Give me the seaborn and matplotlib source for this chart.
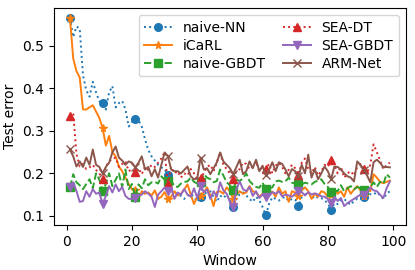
import numpy as np
import pandas as pd
import matplotlib
matplotlib.use("Agg")
import matplotlib.pyplot as plt
import seaborn as sns

# Data
windows = list(range(1, 100))

naive_nn = [0.565, 0.52, 0.545, 0.54, 0.43, 0.395, 0.38, 0.415, 0.39, 0.37,
            0.365, 0.35, 0.39, 0.405, 0.355, 0.365, 0.37, 0.35, 0.31, 0.32,
            0.328, 0.325, 0.31, 0.28, 0.255, 0.24, 0.23, 0.22, 0.214, 0.21,
            0.195, 0.163, 0.155, 0.15, 0.147, 0.14, 0.148, 0.152, 0.145, 0.133,
            0.144, 0.152, 0.155, 0.158, 0.145, 0.133, 0.148, 0.142, 0.15, 0.138,
            0.12, 0.14, 0.151, 0.155, 0.148, 0.14, 0.133, 0.145, 0.137, 0.121,
            0.102, 0.128, 0.144, 0.14, 0.136, 0.142, 0.145, 0.135, 0.14, 0.138,
            0.123, 0.144, 0.15, 0.155, 0.148, 0.14, 0.145, 0.142, 0.136, 0.13,
            0.114, 0.13, 0.128, 0.136, 0.14, 0.132, 0.126, 0.135, 0.14, 0.138,
            0.144, 0.148, 0.151, 0.15, 0.156, 0.148, 0.14, 0.152, 0.158]

icarl = [0.565, 0.47, 0.44, 0.425, 0.35, 0.35, 0.355, 0.36, 0.345, 0.33,
         0.307, 0.265, 0.288, 0.25, 0.24, 0.216, 0.205, 0.19, 0.175, 0.163,
         0.16, 0.14, 0.158, 0.152, 0.155, 0.148, 0.16, 0.14, 0.145, 0.156,
         0.14, 0.145, 0.158, 0.148, 0.152, 0.162, 0.174, 0.15, 0.128, 0.145,
         0.147, 0.155, 0.167, 0.148, 0.123, 0.156, 0.158, 0.152, 0.167, 0.158,
         0.14, 0.15, 0.158, 0.152, 0.155, 0.17, 0.158, 0.155, 0.145, 0.152,
         0.15, 0.153, 0.157, 0.145, 0.167, 0.152, 0.158, 0.133, 0.158, 0.155,
         0.147, 0.16, 0.167, 0.158, 0.14, 0.152, 0.145, 0.158, 0.155, 0.145,
         0.148, 0.162, 0.152, 0.158, 0.145, 0.167, 0.152, 0.162, 0.17, 0.16,
         0.147, 0.162, 0.158, 0.198, 0.19, 0.18, 0.177, 0.18, 0.183]

naive_gbdt = [0.167, 0.198, 0.179, 0.172, 0.163, 0.175, 0.186, 0.165, 0.2, 0.185,
              0.158, 0.175, 0.2, 0.17, 0.185, 0.2, 0.168, 0.209, 0.163, 0.175,
              0.145, 0.174, 0.165, 0.186, 0.172, 0.179, 0.18, 0.176, 0.193, 0.185,
              0.181, 0.183, 0.17, 0.168, 0.176, 0.18, 0.181, 0.19, 0.18, 0.176,
              0.18, 0.198, 0.19, 0.186, 0.179, 0.182, 0.209, 0.195, 0.179, 0.172,
              0.16, 0.185, 0.182, 0.188, 0.2, 0.182, 0.174, 0.168, 0.166, 0.178,
              0.163, 0.165, 0.167, 0.181, 0.183, 0.18, 0.181, 0.19, 0.178, 0.176,
              0.175, 0.174, 0.178, 0.176, 0.174, 0.18, 0.183, 0.186, 0.175, 0.168,
              0.155, 0.16, 0.158, 0.172, 0.158, 0.165, 0.17, 0.162, 0.168, 0.165,
              0.16, 0.162, 0.168, 0.179, 0.168, 0.18, 0.175, 0.198, 0.19]

sea_dt = [0.335, 0.342, 0.245, 0.216, 0.222, 0.21, 0.214, 0.22, 0.208, 0.2,
          0.187, 0.216, 0.228, 0.235, 0.237, 0.215, 0.222, 0.228, 0.205, 0.21,
          0.203, 0.212, 0.198, 0.215, 0.208, 0.22, 0.215, 0.225, 0.235, 0.25,
          0.174, 0.215, 0.2, 0.205, 0.19, 0.2, 0.195, 0.21, 0.2, 0.185,
          0.19, 0.2, 0.215, 0.22, 0.205, 0.225, 0.25, 0.22, 0.21, 0.2,
          0.186, 0.205, 0.21, 0.225, 0.222, 0.21, 0.218, 0.228, 0.205, 0.215,
          0.21, 0.222, 0.2, 0.218, 0.225, 0.215, 0.2, 0.208, 0.22, 0.212,
          0.196, 0.225, 0.235, 0.21, 0.2, 0.215, 0.195, 0.205, 0.22, 0.215,
          0.232, 0.22, 0.2, 0.215, 0.19, 0.2, 0.205, 0.195, 0.215, 0.222,
          0.21, 0.2, 0.22, 0.268, 0.25, 0.23, 0.21, 0.22, 0.225]

sea_gbdt = [0.167, 0.179, 0.158, 0.133, 0.135, 0.158, 0.145, 0.163, 0.152, 0.155,
            0.128, 0.147, 0.17, 0.155, 0.174, 0.158, 0.168, 0.147, 0.14, 0.14,
            0.142, 0.148, 0.15, 0.158, 0.152, 0.145, 0.121, 0.15, 0.158, 0.167,
            0.158, 0.165, 0.14, 0.155, 0.15, 0.163, 0.15, 0.145, 0.165, 0.142,
            0.17, 0.156, 0.162, 0.14, 0.158, 0.145, 0.179, 0.16, 0.152, 0.133,
            0.12, 0.163, 0.181, 0.163, 0.158, 0.168, 0.147, 0.158, 0.142, 0.15,
            0.144, 0.146, 0.156, 0.152, 0.158, 0.146, 0.15, 0.148, 0.145, 0.152,
            0.158, 0.156, 0.148, 0.156, 0.15, 0.153, 0.15, 0.146, 0.145, 0.14,
            0.13, 0.145, 0.135, 0.142, 0.123, 0.13, 0.135, 0.14, 0.145, 0.15,
            0.148, 0.158, 0.167, 0.16, 0.158, 0.15, 0.142, 0.165, 0.181]

arm_net = [0.256, 0.24, 0.216, 0.228, 0.215, 0.237, 0.22, 0.256, 0.22, 0.215,
           0.2, 0.215, 0.225, 0.249, 0.263, 0.237, 0.23, 0.22, 0.228, 0.225,
           0.214, 0.225, 0.24, 0.209, 0.215, 0.193, 0.21, 0.19, 0.22, 0.249,
           0.24, 0.209, 0.205, 0.205, 0.2, 0.208, 0.216, 0.193, 0.186, 0.188,
           0.237, 0.209, 0.212, 0.198, 0.212, 0.226, 0.249, 0.228, 0.22, 0.212,
           0.198, 0.215, 0.232, 0.198, 0.205, 0.228, 0.212, 0.232, 0.205, 0.218,
           0.195, 0.209, 0.226, 0.205, 0.226, 0.222, 0.209, 0.193, 0.21, 0.205,
           0.193, 0.22, 0.2, 0.244, 0.19, 0.21, 0.186, 0.2, 0.216, 0.205,
           0.186, 0.216, 0.215, 0.209, 0.2, 0.193, 0.19, 0.181, 0.228, 0.22,
           0.209, 0.195, 0.179, 0.226, 0.232, 0.225, 0.214, 0.215, 0.214]

series = [
    ("naive-NN", naive_nn, ":", "o"),
    ("iCaRL", icarl, "-", "*"),
    ("naive-GBDT", naive_gbdt, "--", "s"),
    ("SEA-DT", sea_dt, ":", "^"),
    ("SEA-GBDT", sea_gbdt, "-", "v"),
    ("ARM-Net", arm_net, "-", "x"),
]

if __name__ == "__main__":
    plt.rcParams["font.size"] = 10
    fig, ax = plt.subplots(figsize=(4.15, 2.7), dpi=100)
    palette = sns.color_palette("tab10")

    for i, (name, vals, ls, mk) in enumerate(series):
        df = pd.DataFrame({"Window": windows, "Test error": vals})
        sns.lineplot(data=df, x="Window", y="Test error", ax=ax, label=name,
                     color=palette[i], linestyle=ls, marker=mk, markevery=10,
                     markersize=5.5, linewidth=1.4, markeredgecolor=palette[i],
                     markeredgewidth=1.0)

    ax.set_xticks([0, 20, 40, 60, 80, 100])
    ax.set_yticks([0.1, 0.2, 0.3, 0.4, 0.5])
    ax.set_xlabel("Window")
    ax.set_ylabel("Test error")
    ax.legend(loc="upper right", ncol=2, fontsize=10, handlelength=2.0,
              columnspacing=1.2, labelspacing=0.3, borderpad=0.4)
    fig.subplots_adjust(left=0.13, right=0.978, top=0.97, bottom=0.167)
    fig.savefig("out.png", dpi=100)
